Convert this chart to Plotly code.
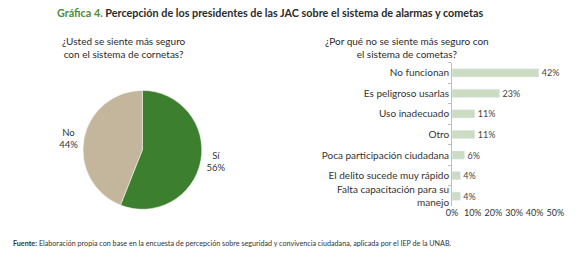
import plotly.graph_objects as go

W, H = 577, 262

pie_labels = ["Sí", "No"]
pie_values = [56, 44]
pie_colors = ["#3b7f2f", "#c4b69c"]

bar_categories = ["No funcionan", "Es peligroso usarlas", "Uso inadecuado", "Otro",
                  "Poca participación ciudadana", "El delito sucede muy rápido",
                  "Falta capacitación para su<br>manejo"]
bar_values = [42, 23, 11, 11, 6, 4, 4]
x_ticks = [0, 10, 20, 30, 40, 50]
x_ticklabels = ["0%", "10%", "20%", "30%", "40%", "50%"]

FONT = "Lato"
fig = go.Figure()

fig.add_trace(go.Pie(
    labels=pie_labels, values=pie_values, sort=False, direction="clockwise", rotation=0,
    marker=dict(colors=pie_colors, line=dict(color="white", width=0.5)),
    texttemplate="%{label}<br>%{value}%", textposition="outside",
    textfont=dict(family=FONT, size=9.5, color="#333333"),
    domain=dict(x=[79 / W, 201 / W], y=[1 - 212 / H, 1 - 90 / H]),
    showlegend=False, hoverinfo="label+percent"))

fig.add_trace(go.Bar(
    x=bar_values, y=bar_categories, orientation="h",
    marker=dict(color="#cbdcc3"),
    text=[f"{v}%" for v in bar_values], textposition="outside", constraintext="none",
    textfont=dict(family=FONT, size=9, color="#444444"),
    cliponaxis=False, xaxis="x", yaxis="y", showlegend=False))

fig.update_layout(
    width=W, height=H, margin=dict(l=0, r=0, t=0, b=0),
    paper_bgcolor="white", plot_bgcolor="white",
    font=dict(family=FONT, size=10, color="#333333"),
    bargap=0.6,
    xaxis=dict(domain=[458 / W, 564 / W], range=[0, 50], tickvals=x_ticks, ticktext=x_ticklabels,
               showgrid=False, zeroline=False, showline=False, ticks="",
               tickfont=dict(family=FONT, size=9, color="#333333")),
    yaxis=dict(domain=[1 - 208 / H, 1 - 63 / H], autorange="reversed",
               showgrid=False, zeroline=False, showline=True, linecolor="#bfbfbf", linewidth=1,
               ticks="outside", ticklen=3, tickcolor="#bfbfbf", tickson="boundaries",
               tickfont=dict(family=FONT, size=10, color="#333333")),
    annotations=[
        dict(text="<span style='color:#4e8c3a'>Gráfica 4.</span> Percepción de los presidentes de las JAC sobre el sistema de alarmas y cometas",
             x=272 / W, y=1 - 13 / H, xref="paper", yref="paper", showarrow=False,
             font=dict(family=FONT, size=10.8, color="#2b2b2b", weight="bold"), xanchor="center", yanchor="middle"),
        dict(text="¿Usted se siente más seguro<br>con el sistema de cornetas?",
             x=121 / W, y=1 - 48 / H, xref="paper", yref="paper", showarrow=False,
             font=dict(family=FONT, size=10, color="#2b2b2b"), xanchor="center", yanchor="middle"),
        dict(text="¿Por qué no se siente más seguro con<br>el sistema de cometas?",
             x=412 / W, y=1 - 48 / H, xref="paper", yref="paper", showarrow=False,
             font=dict(family=FONT, size=10, color="#2b2b2b"), xanchor="center", yanchor="middle"),
        dict(text="<b>Fuente:</b> Elaboración propia con base en la encuesta de percepción sobre seguridad y convivencia ciudadana, aplicada por el IEP de la UNAB.",
             x=5 / W, y=1 - 245 / H, xref="paper", yref="paper", showarrow=False,
             font=dict(family=FONT, size=7.2, color="#333333"), xanchor="left", yanchor="middle"),
    ],
)

fig.write_html("out.html", config={"displayModeBar": False},
               post_script="document.body.style.margin='0';")
